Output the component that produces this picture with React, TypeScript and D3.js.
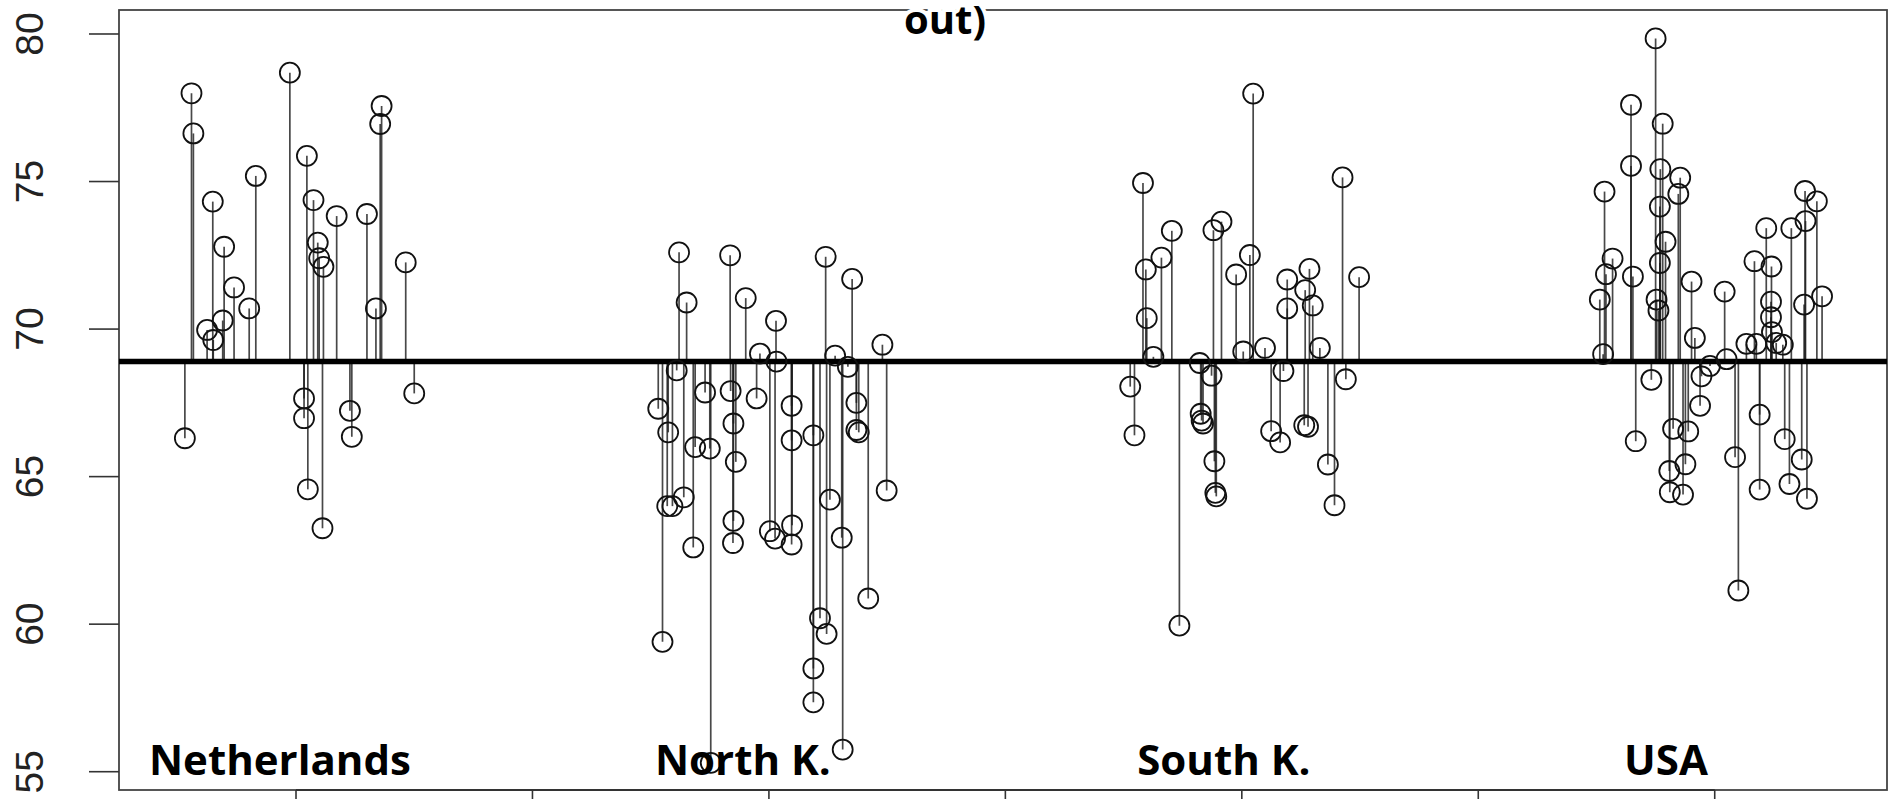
import React from "react";
import * as d3 from "d3";

const WIDTH = 1893;
const HEIGHT = 799;

// Groups along the x axis and the shared reference level the stems hang from
const countries = ["Netherlands", "North K.", "South K.", "USA"];
const yTicks = [55, 60, 65, 70, 75, 80];
const xTicks = [1, 1.5, 2, 2.5, 3, 3.5, 4];
const referenceLevel = 68.9;

// Jittered positions (group index ± 0.25) and life expectancy values
const netherlandsX = [0.765, 0.779, 0.783, 0.812, 0.824, 0.825, 0.845, 0.848, 0.869, 0.901, 0.915, 0.987, 1.017, 1.017, 1.023, 1.025, 1.037, 1.046, 1.049, 1.056, 1.058, 1.086, 1.114, 1.118, 1.15, 1.169, 1.178, 1.181, 1.232, 1.25];
const netherlandsY = [66.3, 77.99, 76.63, 69.97, 74.32, 69.63, 70.29, 72.79, 71.41, 70.7, 75.19, 78.69, 67.65, 66.98, 75.87, 64.57, 74.37, 72.93, 72.4, 63.25, 72.11, 73.83, 67.23, 66.35, 73.9, 70.7, 76.95, 77.56, 72.26, 67.82];

const northKoreaX = [1.775, 1.766, 1.787, 1.785, 1.796, 1.82, 1.805, 1.81, 1.826, 1.84, 1.844, 1.865, 1.875, 1.877, 1.918, 1.919, 1.925, 1.93, 1.925, 1.924, 1.951, 1.974, 1.981, 2.002, 2.013, 2.015, 2.016, 2.048, 2.048, 2.049, 2.048, 2.094, 2.094, 2.094, 2.108, 2.122, 2.12, 2.129, 2.14, 2.154, 2.156, 2.167, 2.176, 2.185, 2.185, 2.19, 2.21, 2.24, 2.249];
const northKoreaY = [59.4, 67.3, 66.5, 64.0, 64.0, 64.3, 68.6, 72.6, 70.9, 62.6, 66.0, 67.85, 65.95, 55.3, 72.5, 67.9, 66.8, 65.5, 63.5, 62.75, 71.05, 67.65, 69.17, 63.15, 62.9, 70.28, 68.9, 67.4, 66.23, 63.35, 62.7, 66.4, 58.5, 57.35, 60.2, 59.67, 72.45, 64.22, 69.1, 62.93, 55.75, 68.72, 71.7, 67.5, 66.58, 66.5, 60.87, 69.47, 64.53];

const southKoreaX = [2.764, 2.773, 2.791, 2.797, 2.799, 2.813, 2.83, 2.852, 2.868, 2.911, 2.913, 2.915, 2.918, 2.936, 2.94, 2.942, 2.944, 2.946, 2.957, 2.988, 3.003, 3.017, 3.024, 3.049, 3.062, 3.081, 3.088, 3.096, 3.096, 3.134, 3.143, 3.15, 3.132, 3.14, 3.165, 3.182, 3.196, 3.213, 3.22, 3.248];
const southKoreaY = [68.05, 66.4, 74.95, 72.02, 70.37, 69.06, 72.42, 73.33, 59.95, 68.85, 67.13, 66.9, 66.8, 68.42, 73.35, 65.52, 64.45, 64.33, 73.64, 71.85, 69.24, 72.51, 77.98, 69.36, 66.54, 66.16, 68.58, 71.68, 70.7, 71.32, 72.04, 70.8, 66.74, 66.69, 69.36, 65.41, 64.03, 75.14, 68.3, 71.76];

const usaX = [3.757, 3.764, 3.767, 3.77, 3.784, 3.823, 3.823, 3.827, 3.833, 3.866, 3.875, 3.877, 3.881, 3.884, 3.884, 3.885, 3.89, 3.896, 3.904, 3.905, 3.912, 3.923, 3.927, 3.933, 3.938, 3.944, 3.951, 3.958, 3.969, 3.972, 3.99, 4.021, 4.025, 4.043, 4.05, 4.067, 4.088, 4.084, 4.095, 4.095, 4.109, 4.12, 4.119, 4.119, 4.121, 4.13, 4.144, 4.148, 4.158, 4.162, 4.184, 4.191, 4.192, 4.189, 4.195, 4.216, 4.227];
const usaY = [71.0, 69.15, 74.66, 71.86, 72.39, 77.6, 75.53, 71.78, 66.2, 68.28, 79.85, 71.0, 70.63, 74.15, 72.24, 75.42, 76.96, 72.96, 65.19, 64.47, 66.62, 74.58, 75.13, 64.39, 65.42, 66.53, 71.61, 69.7, 67.4, 68.4, 68.75, 71.27, 68.98, 65.66, 61.14, 69.5, 69.5, 72.3, 67.1, 64.56, 73.42, 72.12, 70.93, 70.4, 69.9, 69.53, 69.47, 66.27, 64.75, 73.42, 65.58, 74.68, 73.66, 70.83, 64.25, 74.33, 71.11];

// Where each group name sits along the x axis
const labelAnchors = [0.966, 1.945, 2.962, 3.897];

const seriesX = [netherlandsX, northKoreaX, southKoreaX, usaX];
const seriesY = [netherlandsY, northKoreaY, southKoreaY, usaY];

const points = seriesX.flatMap((xs, g) =>
  xs.map((x, i) => ({ group: countries[g], x, y: seriesY[g][i] }))
);

const box = { left: 119, right: 1887, top: 10, bottom: 790 };

const x = d3.scaleLinear().domain([0.6257, 4.3643]).range([box.left, box.right]);
const y = d3.scaleLinear().domain([54.38, 80.813]).range([box.bottom, box.top]);

const labelFont = "'Open Sans', 'Noto Sans', sans-serif";
const tickFont = "'Liberation Sans', Arial, sans-serif";

export default function App() {
  const yRef = y(referenceLevel);
  return (
    <svg
      width={WIDTH}
      height={HEIGHT}
      viewBox={`0 0 ${WIDTH} ${HEIGHT}`}
      style={{ position: "fixed", left: 0, top: 0, background: "#fff" }}
    >
      <rect x={0} y={0} width={WIDTH} height={HEIGHT} fill="#fff" />

      {/* plot frame */}
      <rect
        x={box.left}
        y={box.top}
        width={box.right - box.left}
        height={box.bottom - box.top}
        fill="none"
        stroke="#444"
        strokeWidth={1.8}
      />

      {/* y axis */}
      <g>
        {yTicks.map((t) => (
          <g key={t}>
            <line x1={box.left - 30} x2={box.left} y1={y(t)} y2={y(t)} stroke="#333" strokeWidth={1.6} />
            <text
              transform={`translate(43, ${y(t)}) rotate(-90)`}
              textAnchor="middle"
              fontFamily={tickFont}
              fontSize={39}
              fill="#222"
            >
              {t}
            </text>
          </g>
        ))}
      </g>

      {/* x axis */}
      <g>
        <line
          x1={x(xTicks[0])}
          x2={x(xTicks[xTicks.length - 1])}
          y1={box.bottom}
          y2={box.bottom}
          stroke="#333"
          strokeWidth={2}
        />
        {xTicks.map((t) => (
          <line key={t} x1={x(t)} x2={x(t)} y1={box.bottom} y2={box.bottom + 30} stroke="#333" strokeWidth={1.6} />
        ))}
      </g>

      {/* stems from the reference level */}
      <g stroke="#1a1a1a" strokeWidth={1.7} strokeOpacity={0.8}>
        {points.map((p, i) => (
          <line key={i} x1={x(p.x)} x2={x(p.x)} y1={yRef} y2={y(p.y)} />
        ))}
      </g>

      {/* reference level */}
      <line x1={box.left} x2={box.right} y1={yRef} y2={yRef} stroke="#000" strokeWidth={5.5} />

      {/* points */}
      <g fill="none" stroke="#111" strokeWidth={1.8}>
        {points.map((p, i) => (
          <circle key={i} cx={x(p.x)} cy={y(p.y)} r={10} />
        ))}
      </g>

      {/* group names */}
      <g fontFamily={labelFont} fontWeight={700} fontSize={42} fill="#000" textAnchor="middle">
        {countries.map((c, i) => (
          <text key={c} x={x(labelAnchors[i])} y={775}>
            {c}
          </text>
        ))}
      </g>

      {/* tail of the title */}
      <text
        x={945}
        y={34}
        textAnchor="middle"
        fontFamily={labelFont}
        fontWeight={700}
        fontSize={40}
        fill="#000"
        stroke="#fff"
        strokeWidth={8}
        paintOrder="stroke"
      >
        out)
      </text>
    </svg>
  );
}
